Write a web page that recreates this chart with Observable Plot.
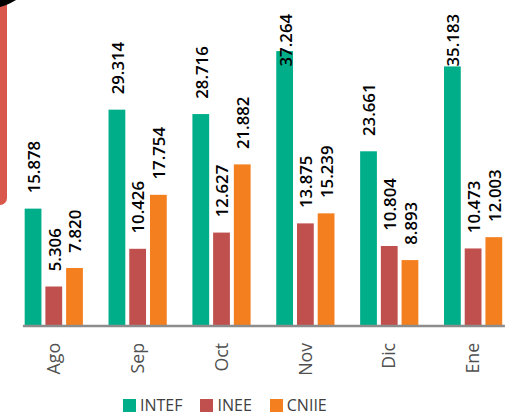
<!DOCTYPE html>
<html><head><meta charset="utf-8">
<script src="https://cdn.jsdelivr.net/npm/d3@7"></script>
<script src="https://cdn.jsdelivr.net/npm/@observablehq/plot@0.6"></script>
<style>
html,body{margin:0;padding:0;background:#fff;overflow:hidden;width:518px;height:418px;position:relative}
#deco-red{position:absolute;left:0;top:0;width:7px;height:205px;background:#d9584b;border-bottom-right-radius:7px}
#deco-black{position:absolute;left:-90px;top:-130px;width:140px;height:140px;border-radius:50%;background:#000}
#chart{position:absolute;left:0;top:0}
#legend{position:absolute;left:123px;top:397px;height:17px;line-height:17px;display:flex;align-items:center;font-family:"Open Sans",sans-serif;font-size:16px;color:#404040}
#legend .item{display:flex;align-items:center;margin-right:18px}
#legend .sw{width:13px;height:13px;margin-right:4px}
</style>
</head><body>
<div id="chart"></div>
<div id="deco-red"></div>
<div id="deco-black"></div>
<div id="legend"></div>
<script>
const months = ["Ago", "Sep", "Oct", "Nov", "Dic", "Ene"];
const series = ["INTEF", "INEE", "CNIIE"];
const intef = [15878, 29314, 28716, 37264, 23661, 35183];
const inee = [5306, 10426, 12627, 13875, 10804, 10473];
const cniie = [7820, 17754, 21882, 15239, 8893, 12003];
const colors = ["#00af8a", "#c0504d", "#f47f1f"];

const values = [intef, inee, cniie];
const data = [];
months.forEach((m, i) => series.forEach((s, j) => data.push({month: m, series: s, value: values[j][i]})));

const fmt = d3.formatLocale({decimal: ",", thousands: ".", grouping: [3], currency: ["", "€"]}).format(",d");

const chart = Plot.plot({
  width: 525,
  height: 398,
  marginLeft: 10,
  marginRight: 0,
  marginTop: 0,
  marginBottom: 68,
  style: {fontFamily: "'Open Sans', sans-serif", background: "transparent", overflow: "visible"},
  fx: {domain: months, paddingInner: 0.28, paddingOuter: 0.14, label: null, axis: null},
  x: {domain: series, paddingInner: 0.2, paddingOuter: 0, axis: null},
  y: {domain: [0, 44200], axis: null},
  color: {domain: series, range: colors},
  marks: [
    Plot.barY(data, {fx: "month", x: "series", y: "value", fill: "series"}),
    Plot.text(data, {
      fx: "month", x: "series",
      y: d => Math.min(d.value, 33100),
      text: d => fmt(d.value),
      rotate: -90, textAnchor: "start", dy: -16, dx: 1,
      fontSize: 17, fontWeight: 600, fill: "#000"
    }),
    Plot.frame({anchor: "bottom", facet: "super", stroke: "#8c8c8c", strokeWidth: 2.5}),
    Plot.axisFx({anchor: "bottom", tickRotate: -90, tickSize: 0, tickPadding: 17, fontSize: 18, fontWeight: 400, fill: "#505050", label: null})
  ]
});
document.getElementById("chart").appendChild(chart);

const legend = document.getElementById("legend");
series.forEach((s, i) => {
  const item = document.createElement("div");
  item.className = "item";
  const sw = document.createElement("span");
  sw.className = "sw";
  sw.style.background = colors[i];
  const t = document.createElement("span");
  t.textContent = s;
  item.appendChild(sw);
  item.appendChild(t);
  legend.appendChild(item);
});
</script>
</body></html>
